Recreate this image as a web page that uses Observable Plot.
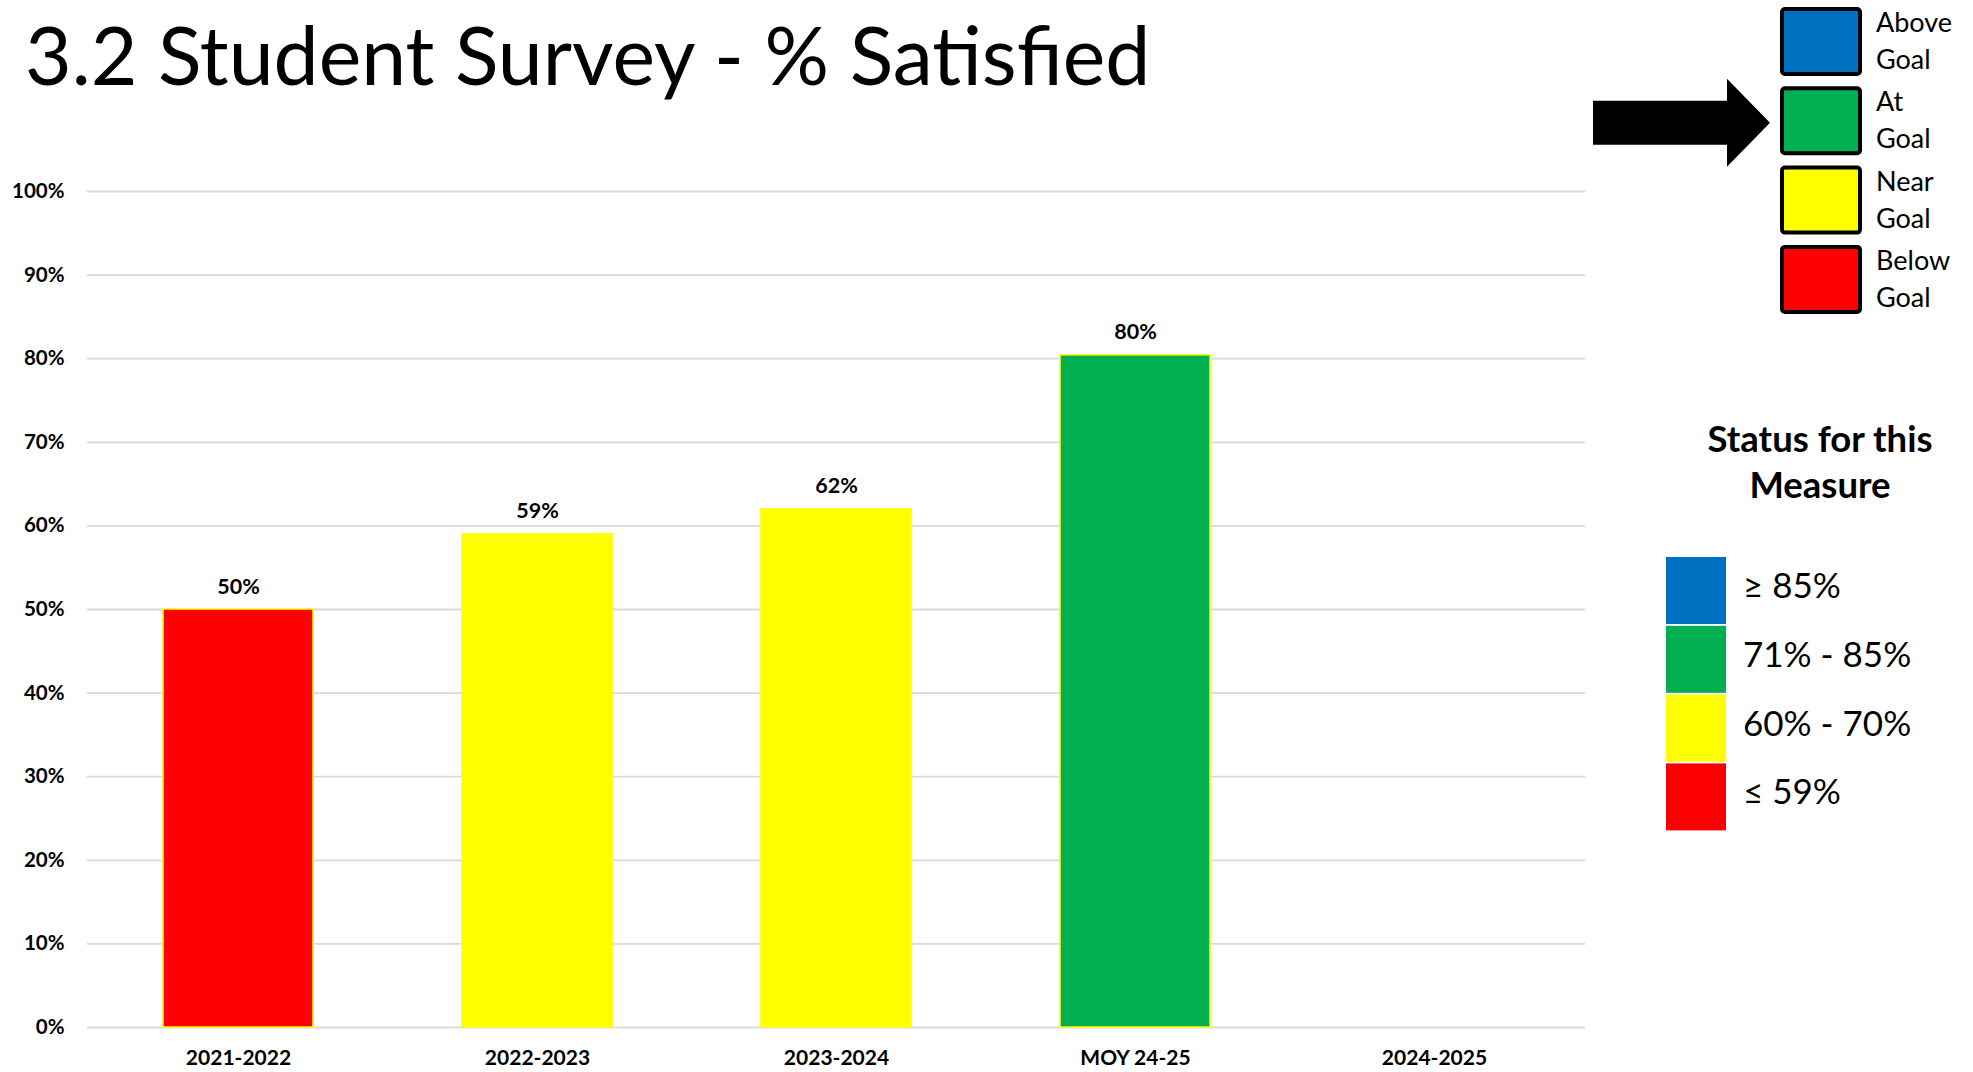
<!DOCTYPE html>
<html>
<head>
<meta charset="utf-8">
<script src="https://cdn.jsdelivr.net/npm/d3@7"></script>
<script src="https://cdn.jsdelivr.net/npm/@observablehq/plot@0.6"></script>
<style>
  html, body { margin: 0; padding: 0; background: #ffffff; }
  #root { position: relative; width: 1973px; height: 1072px; overflow: hidden; font-family: Lato, "Open Sans", sans-serif; color: #000; }
  #title { position: absolute; left: 25px; top: 14px; font-size: 80.5px; line-height: 80.5px; font-weight: 400; white-space: nowrap; margin: 0; }
  #chart { position: absolute; left: 0; top: 0; }
  #legend { position: absolute; left: 0; top: 0; }
</style>
</head>
<body>
<div id="root">
  <div id="chart"></div>
  <h1 id="title"></h1>
  <svg id="legend" width="1973" height="1072"></svg>
</div>
<script>
// ---- data ----
const titleText = "3.2 Student Survey - % Satisfied";
const categories = ["2021-2022", "2022-2023", "2023-2024", "MOY 24-25", "2024-2025"];
const values = [50, 59, 62, 80.4, null];
const statuses = ["Below Goal", "Near Goal", "Near Goal", "At Goal", null];
const statusNames = ["Above Goal", "At Goal", "Near Goal", "Below Goal"];
const statusColors = ["#0070C0", "#00B050", "#FFFF00", "#FF0000"];
const rangeLabels = ["\u2265 85%", "71% - 85%", "60% - 70%", "\u2264 59%"];
const currentStatus = "At Goal";
const legendTitle = ["Status for this", "Measure"];
const yTicks = [0, 10, 20, 30, 40, 50, 60, 70, 80, 90, 100];

const rows = categories.map((c, i) => ({category: c, value: values[i], status: statuses[i]}));
const withValue = rows.filter(d => d.value != null);

document.getElementById("title").textContent = titleText;

const chart = Plot.plot({
  width: 1973,
  height: 1072,
  marginLeft: 87,
  marginRight: 388,
  marginTop: 191,
  marginBottom: 45,
  style: {fontFamily: "Lato, 'Open Sans', sans-serif", background: "transparent", color: "#000"},
  x: {domain: categories, paddingInner: 0.5, paddingOuter: 0.25, label: null},
  y: {domain: [0, 100], label: null},
  color: {domain: statusNames, range: statusColors},
  marks: [
    Plot.gridY(yTicks, {stroke: "#d9d9d9", strokeOpacity: 1, strokeWidth: 1.8}),
    Plot.barY(withValue, {x: "category", y: "value", fill: "status", stroke: "#FFFF00", strokeWidth: 1.5}),
    Plot.text(withValue, {x: "category", y: "value", text: d => Math.round(d.value) + "%", dy: -16, lineAnchor: "bottom", fontSize: 21.5, fontWeight: "bold", fill: "#000"}),
    Plot.axisY(yTicks, {tickSize: 0, tickPadding: 23, tickFormat: d => d + "%", fontSize: 20.5, fontWeight: "bold", label: null}),
    Plot.axisX({tickSize: 0, tickPadding: 23, fontSize: 21, fontWeight: "bold", label: null})
  ]
});
document.getElementById("chart").appendChild(chart);

// ---- goal legend with arrow ----
const svg = d3.select("#legend");
const boxX = 1782, boxW = 78, boxTop0 = 9, boxStep = 79.3, boxH = 65;
const g1 = svg.append("g");
statusNames.forEach((name, i) => {
  const top = boxTop0 + i * boxStep;
  g1.append("rect").attr("x", boxX).attr("y", top).attr("width", boxW).attr("height", boxH)
    .attr("rx", 3).attr("fill", statusColors[i]).attr("stroke", "#000").attr("stroke-width", 4);
  const words = name.split(" ");
  words.forEach((w, j) => {
    g1.append("text").attr("x", 1876).attr("y", top - 2 + 25 + j * 37)
      .attr("font-size", 27).attr("font-family", "Lato, 'Open Sans', sans-serif").text(w);
  });
});
const ci = statusNames.indexOf(currentStatus);
const cy = boxTop0 + ci * boxStep + boxH / 2 + 2;
const arrow = [[1593, cy - 22], [1727, cy - 22], [1727, cy - 44], [1770, cy], [1727, cy + 44], [1727, cy + 22], [1593, cy + 22]];
g1.append("path").attr("d", d3.line()(arrow) + "Z").attr("fill", "#000");

// ---- status ranges legend ----
const g2 = svg.append("g");
legendTitle.forEach((t, j) => {
  g2.append("text").attr("x", 1820).attr("y", 452 + j * 46).attr("text-anchor", "middle")
    .attr("font-size", 36.5).attr("font-weight", "bold").attr("font-family", "Lato, 'Open Sans', sans-serif").text(t);
});
const swX = 1666, swW = 60, swTop0 = 557, swStep = 68.8, swH = 67;
rangeLabels.forEach((lab, i) => {
  const top = swTop0 + i * swStep;
  g2.append("rect").attr("x", swX).attr("y", top).attr("width", swW).attr("height", swH).attr("fill", statusColors[i]);
  g2.append("text").attr("x", 1743).attr("y", top + 41).attr("font-size", 35)
    .attr("font-family", "Lato, 'Open Sans', sans-serif").text(lab);
});
</script>
</body>
</html>
